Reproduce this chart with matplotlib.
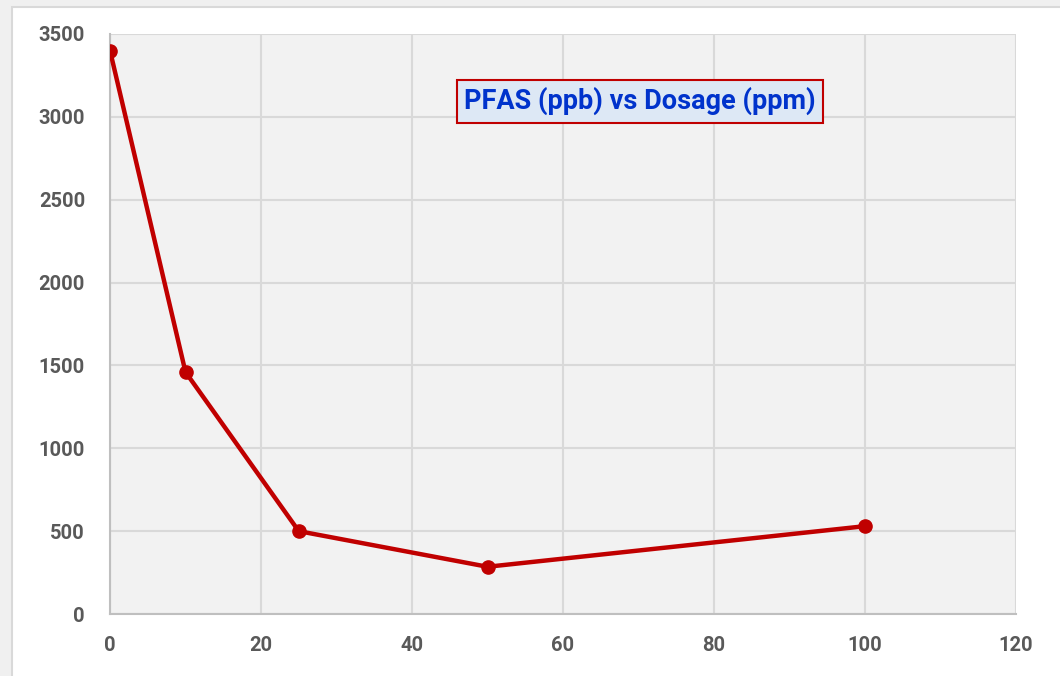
import matplotlib.pyplot as plt
from matplotlib.patches import Rectangle

dosage = [0, 10, 25, 50, 100]
pfas = [3400, 1460, 500, 285, 530]
x_ticks = [0, 20, 40, 60, 80, 100, 120]
y_ticks = [0, 500, 1000, 1500, 2000, 2500, 3000, 3500]

plt.rcParams['font.family'] = ['Roboto', 'DejaVu Sans']

fig = plt.figure(figsize=(10.6, 6.76), dpi=100)
fig.patch.set_facecolor('#f0f0f0')
# white chart area with thin grey border (behind the axes)
fig.patches.append(Rectangle((12/1060, -0.01), 1.0, 1 - 7/676 + 0.01, transform=fig.transFigure,
                             facecolor='white', edgecolor='#d9d9d9', linewidth=1.5, zorder=-10))

ax = fig.add_axes([110/1060, 1 - 614/676, 906/1060, 580/676])
ax.set_facecolor('#f2f2f2')
ax.plot(dosage, pfas, color='#c00000', linewidth=3.2, marker='o', markersize=9.5, zorder=3)

ax.set_xlim(0, 120)
ax.set_ylim(0, 3500)
ax.set_xticks(x_ticks)
ax.set_yticks(y_ticks)
ax.grid(True, color='#d9d9d9', linewidth=1.5)
ax.set_axisbelow(True)
for s in ['top', 'right']:
    ax.spines[s].set_visible(False)
for s in ['left', 'bottom']:
    ax.spines[s].set_color('#bfbfbf')
    ax.spines[s].set_linewidth(1.5)
ax.tick_params(length=0, labelsize=14.5, labelcolor='#595959')
ax.tick_params(axis='y', pad=18)
ax.tick_params(axis='x', pad=16)
for lbl in ax.get_xticklabels() + ax.get_yticklabels():
    lbl.set_fontweight('bold')

ax.text(0.585, 0.884, 'PFAS (ppb) vs Dosage (ppm)', transform=ax.transAxes,
        ha='center', va='center', fontsize=19.5, fontweight='bold', color='#0033cc',
        bbox=dict(boxstyle='square,pad=0.28', facecolor='#dde8f5', edgecolor='#c00000', linewidth=1.5))

fig.savefig('out.png', dpi=100)
